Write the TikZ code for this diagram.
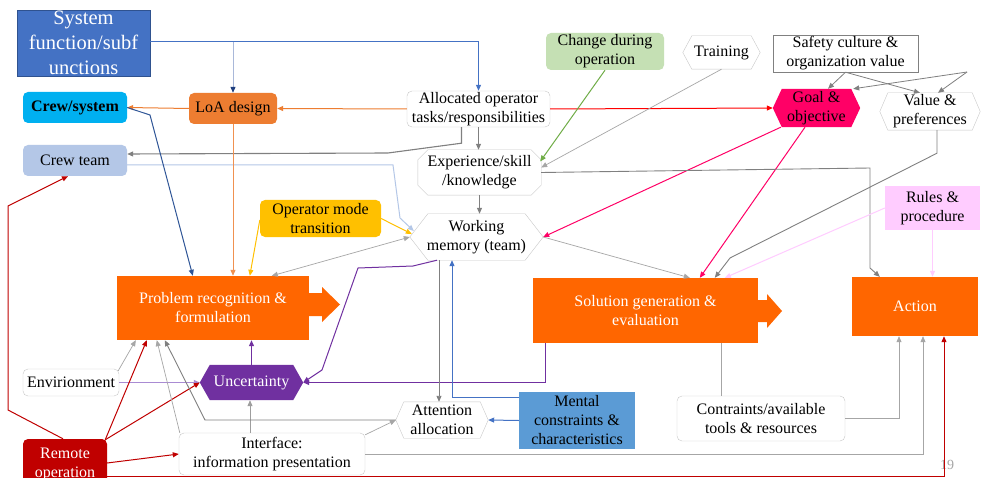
\documentclass[tikz,border=0pt]{standalone}
\usepackage{fontspec}
\setmainfont{Liberation Serif}
\usetikzlibrary{arrows.meta,calc,backgrounds}

\definecolor{sysblue}{HTML}{4472C4}
\definecolor{sysedge}{HTML}{2F528F}
\definecolor{cyanbox}{HTML}{00B0F0}
\definecolor{loaor}{HTML}{ED7D31}
\definecolor{crewbl}{HTML}{B4C7E7}
\definecolor{chgreen}{HTML}{C5E0B4}
\definecolor{goalpk}{HTML}{FF0066}
\definecolor{modeyl}{HTML}{FFC000}
\definecolor{rulepk}{HTML}{FFCCFF}
\definecolor{procor}{HTML}{FF6600}
\definecolor{uncpur}{HTML}{7030A0}
\definecolor{menbl}{HTML}{5B9BD5}
\definecolor{remred}{HTML}{C00000}
\definecolor{boxedge}{HTML}{C8C8C8}
\definecolor{dkgray}{HTML}{808080}
\definecolor{ltgray}{HTML}{A6A6A6}
\definecolor{navyln}{HTML}{2F5597}
\definecolor{navyhd}{HTML}{1F3F7F}
\definecolor{paleblue}{HTML}{A9B8D9}
\definecolor{lavender}{HTML}{A98BD3}
\definecolor{grn}{HTML}{70AD47}

\tikzset{
  txt/.style={font=\rmfamily\fontsize{16}{19}\selectfont, align=center, inner sep=0pt},
  sz/.style 2 args={minimum width=#1pt, minimum height=#2pt},
  rbox/.style={txt, rounded corners=5pt},
  sbox/.style={txt},
  con/.style={->, line width=1pt},
  gcon/.style={->, line width=0.9pt, dkgray},
  ltcon/.style={->, line width=0.7pt, ltgray},
}

% hexagon: name, centre, width, height, indent, shape style, text style, text
\newcommand\hexnode[8]{%
  \node[txt, sz={#3}{#4}, #7] (#1) at (#2) {#8};
  \begin{pgfonlayer}{background}
    \path[#6] (#1.west) -- ([xshift=#5pt]#1.north west) -- ([xshift=-#5pt]#1.north east)
      -- (#1.east) -- ([xshift=-#5pt]#1.south east) -- ([xshift=#5pt]#1.south west) -- cycle;
  \end{pgfonlayer}}

% octagon: name, centre, width, height, chamfer, shape style, text
\newcommand\octnode[7]{%
  \node[txt, sz={#3}{#4}] (#1) at (#2) {#7};
  \begin{pgfonlayer}{background}
    \path[#6] ([xshift=#5pt]#1.north west) -- ([xshift=-#5pt]#1.north east)
      -- ([yshift=-#5pt]#1.north east) -- ([yshift=#5pt]#1.south east)
      -- ([xshift=-#5pt]#1.south east) -- ([xshift=#5pt]#1.south west)
      -- ([yshift=#5pt]#1.south west) -- ([yshift=-#5pt]#1.north west) -- cycle;
  \end{pgfonlayer}}

\begin{document}
\begin{tikzpicture}[x=1pt, y=-1pt, >={Triangle[length=6pt,width=5pt]}]
\begin{pgfonlayer}{background}
  \fill[white] (0,0) rectangle (981,478);
\end{pgfonlayer}
\useasboundingbox (0,0) rectangle (981,478);

% ---------- boxes ----------
\node[sbox, sz={133}{66}, fill=sysblue, draw=sysedge, text=white,
      font=\rmfamily\fontsize{20.5}{25}\selectfont] (sys) at (83.5,43) {System\\function/subf\\unctions};
\node[rbox, sz={104}{31}, fill=cyanbox, font=\rmfamily\fontsize{16}{19}\selectfont\bfseries] (crewsys) at (75,107.5) {Crew/system};
\node[rbox, sz={88}{31}, fill=loaor] (loa) at (233,108.5) {LoA design};
\node[rbox, sz={104}{31}, fill=crewbl] (crewteam) at (75,160.5) {Crew team};
\node[rbox, sz={143}{36}, draw=boxedge, fill=white] (alloc) at (478.5,109) {Allocated operator\\tasks/responsibilities};
\node[rbox, sz={118}{37}, fill=chgreen] (change) at (605,51.5) {Change during\\operation};
\hexnode{train}{721.5,52.5}{77}{33}{9}{draw=boxedge, fill=white}{}{Training}
\node[sbox, sz={145}{37}, draw=dkgray, fill=white] (safety) at (845.5,53.5) {Safety culture \&\\organization value};
\hexnode{goal}{816.5,108}{87}{38}{9}{fill=goalpk}{}{Goal \&\\objective}
\hexnode{value}{930,111.5}{100}{37}{8}{draw=boxedge, fill=white}{}{Value \&\\preferences}
\octnode{exp}{479.5,172.5}{123}{45}{10}{draw=boxedge, fill=white}{Experience/skill\\/knowledge}
\node[rbox, sz={121}{37}, fill=modeyl] (opmode) at (320.5,218.5) {Operator mode\\transition};
\hexnode{wm}{476.5,237}{133}{46}{18}{draw=boxedge, fill=white}{}{Working\\memory (team)}
\node[sbox, sz={95}{44}, fill=rulepk] (rules) at (932.5,208) {Rules \&\\procedure};

\node[sbox, sz={192}{64}, fill=procor, text=white] (prob) at (213,308) {Problem recognition \&\\formulation};
\fill[procor] (309,293) -- (322,293) -- (322,287) -- (340,304.5) -- (322,322) -- (322,316) -- (309,316) -- cycle;
\node[sbox, sz={225}{65}, fill=procor, text=white] (sol) at (645.5,310.5) {Solution generation \&\\evaluation};
\fill[procor] (758,300) -- (767,300) -- (767,294) -- (782,311) -- (767,328) -- (767,322) -- (758,322) -- cycle;
\node[sbox, sz={126}{59}, fill=procor, text=white] (action) at (915,306.5) {Action};

\node[rbox, sz={96}{27}, draw=boxedge, fill=white] (env) at (71,382.5) {Envirionment};
\hexnode{unc}{251.5,382.5}{103}{35}{10}{fill=uncpur}{text=white}{Uncertainty}
\hexnode{att}{442,420}{92}{36}{8}{draw=boxedge, fill=white}{}{Attention\\allocation}
\node[sbox, sz={116}{57}, fill=menbl] (mental) at (577,420.5) {Mental\\constraints \&\\characteristics};
\node[rbox, sz={168}{45}, draw=boxedge, fill=white] (constr) at (761,418.5) {Contraints/available\\tools \& resources};
\node[rbox, sz={186}{42}, draw=boxedge, fill=white] (iface) at (272,454) {Interface:\\information presentation};
\node[rbox, sz={84}{50}, fill=remred, text=white] (remote) at (65,464) {Remote\\operation};
\node[txt, text=ltgray, font=\rmfamily\fontsize{14}{16}\selectfont] (pg) at (947,465) {19};

% ---------- connectors ----------
% system functions to allocation and LoA design
\draw[con, sysblue] ([yshift=1pt]sys.east) -| (alloc.north);
\coordinate (split) at (233,42);
\draw[line width=1pt, paleblue, -{Triangle[length=6pt,width=5pt,color=navyhd]}] (split) -- (loa.north);
\draw[con, loaor] (alloc.west) -- (loa.east);
\draw[con, loaor] (loa.west) -- (crewsys.east);
\draw[con, red] (alloc.east) -- (goal.west);
\draw[gcon] (alloc.south) -- (alloc.south |- exp.north);
\draw[gcon, line width=1.1pt] ([xshift=-17pt]alloc.south) -- ++(0,16) -- (388,153) -- ([yshift=6.5pt]crewteam.east);
\draw[con, crewbl] ([yshift=-4.5pt]crewteam.east) -- (393,165) -- (400,218) -- ($(wm.west)+(4,-6)$);
\draw[con, navyln] (crewsys.east) -- (150,115) -- ([xshift=76pt]prob.north west);
\draw[con, loaor!85] (loa.south) -- (loa.south |- prob.north);
\draw[con, modeyl] ($(opmode.west)+(0,1.5)$) -- ([xshift=133pt]prob.north west);
\draw[con, modeyl] (opmode.east) -- ($(wm.west)+(2,-3)$);
\draw[ltcon, <->] (wm.west) -- ([xshift=155pt]prob.north west);
\draw[gcon] (exp.south) -- (exp.south |- wm.north);

% influences on experience, goals and values
\draw[con, grn] (change.south) -- ($(exp.east)+(-1,-11)$);
\draw[ltcon] (train.south) -- ($(exp.east)+(0,-5)$);
\draw[gcon, line width=0.8pt] (safety.south) -- ($(goal.north)+(11.5,0)$);
\draw[gcon, line width=0.8pt] (safety.south) -- ($(value.north)+(-10,0)$);
\coordinate (vfork) at (967,72);
\draw[gcon, line width=0.8pt] (vfork) -- ($(goal.north east)+(-7,0)$);
\draw[gcon, line width=0.8pt] (vfork) -- ($(value.north)+(8,0)$);
\draw[con, goalpk] ($(goal.south west)+(8,0)$) -- (wm.east);
\draw[con, goalpk] ($(goal.south)+(-11.5,0)$) -- ([xshift=167pt]sol.north west);
\draw[gcon] ($(value.south)+(7,0)$) -- ++(0,23) -- (730,258) -- ([xshift=182pt]sol.north west);
\draw[gcon] (exp.east) -- (870,168) -- (870,268) -- ([xshift=28pt]action.north west);
\draw[ltcon] (wm.east) -- ([xshift=157pt]sol.north west);
\draw[con, rulepk] (rules.west) -- ([xshift=192pt]sol.north west);
\draw[con, rulepk] (rules.south) -- (rules.south |- action.north);

% uncertainty
\draw[con, uncpur] ($(wm.south)+(-39.5,0)$) -- (413,266) -- (358,268) -- (322,370) -- (unc.east);
\draw[con, uncpur] ([xshift=13pt]sol.south west) |- (unc.east);
\draw[con, uncpur] (unc.north) -- (unc.north |- prob.south);
\draw[gcon, ltgray!80!dkgray] ([xshift=-22pt]iface.north) -- ([xshift=-1.5pt]unc.south);
\draw[con, lavender] (env.east) -- (unc.west);

% inputs to problem recognition
\draw[ltcon] ($(env.north east)+(-1,2)$) -- ([xshift=19pt]prob.south west);
\draw[con, remred] ($(remote.north east)+(-2,1)$) -- ([xshift=30pt]prob.south west);
\draw[con, remred] ($(remote.north east)+(-2,1)$) -- (unc.west);
\draw[con, remred] ($(remote.east)+(0,-1)$) -- (iface.west);
\draw[con, remred] ($(remote.north)+(-2,0)$) -- (8,410) -- (8,206) -- ($(crewteam.south)+(-7,0)$);
\draw[con, remred] ($(remote.east)+(0,12)$) -| ([xshift=29pt]action.south);
\draw[ltcon] ($(iface.north west)+(1,0)$) -- ([xshift=40pt]prob.south west);
\draw[gcon] (att.west) -- (205,420) -- ([xshift=48pt]prob.south west);
\draw[ltcon] ($(iface.north east)+(0,2)$) -- (att.west);

% attention and mental constraints
\draw[gcon] ([xshift=-37.5pt]wm.south) -- ([xshift=-37.5pt]wm.south |- att.north);
\draw[con, sysblue] ($(mental.north west)+(0,6)$) -| ([xshift=-24.5pt]wm.south);
\draw[con, sysblue] (mental.west) -- (att.east);

% resources and action
\draw[line width=0.7pt, ltgray] ([xshift=189pt]sol.south west) -- ([xshift=189pt]sol.south west |- constr.north);
\draw[ltcon] (constr.east) -| ([xshift=-16pt]action.south);
\draw[ltcon] (iface.east) -| ([xshift=8pt]action.south);
\end{tikzpicture}
\end{document}
